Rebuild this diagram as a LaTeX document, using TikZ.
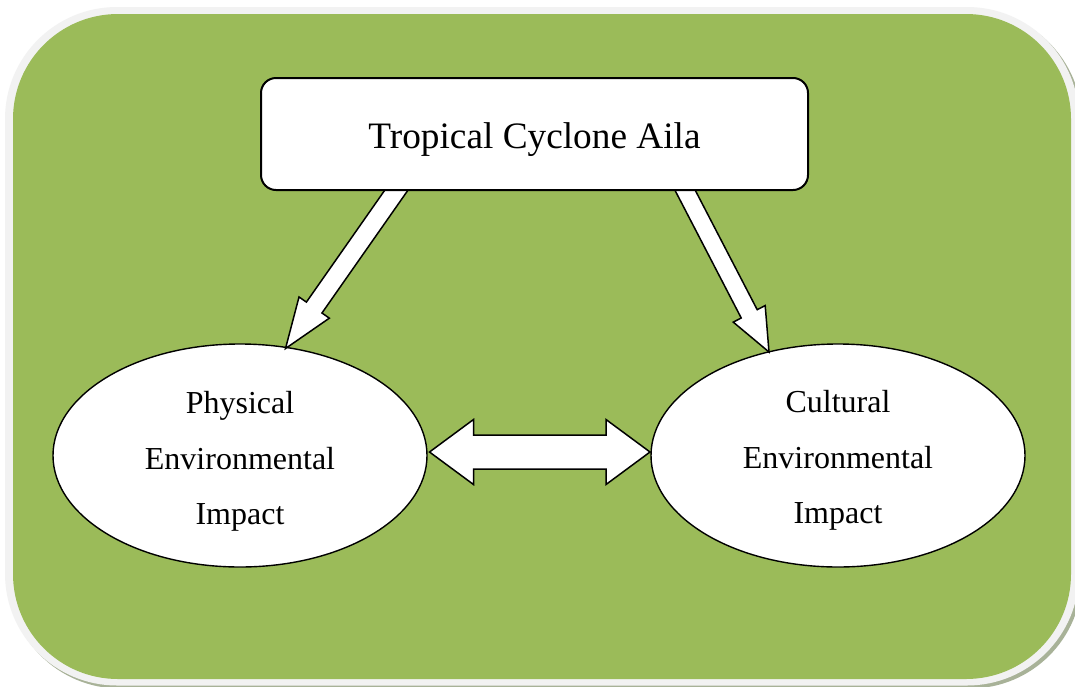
\documentclass[tikz,border=0pt]{standalone}
\usepackage{fontspec}
\setmainfont{Liberation Serif}
\usetikzlibrary{calc,shapes.geometric}
\definecolor{leafgreen}{HTML}{9BBB59}
\definecolor{framegray}{HTML}{F2F2F2}
\definecolor{shadowc}{RGB}{168,178,152}
\newcommand\blockarr[5]{%
  \coordinate (hb) at ($(#2)!#5!(#1)$);
  \draw[blk] ($(#1)!#3!90:(#2)$) -- ($(hb)!#3!90:(#2)$) -- ($(hb)!#4!90:(#2)$) -- (#2)
    -- ($(hb)!#4!-90:(#2)$) -- ($(hb)!#3!-90:(#2)$) -- ($(#1)!#3!-90:(#2)$) -- cycle;}
\begin{document}
\begin{tikzpicture}[x=1pt,y=-1pt,
  blk/.style={draw=black,fill=white,line width=1.5pt,line join=miter},
  ell/.style={ellipse,draw=black,fill=white,line width=1.4pt,minimum width=374pt,
    minimum height=223pt,inner sep=0pt},
  elltext/.style={align=center,inner sep=0pt,font=\fontsize{32}{55.5}\selectfont},
  topbox/.style={rectangle,rounded corners=15pt,draw=black,fill=white,line width=2pt,
    minimum width=547pt,minimum height=112pt,inner sep=0pt},
  toptext/.style={inner sep=0pt,font=\fontsize{37.3}{44}\selectfont}]
\path[use as bounding box,clip] (0,0) rectangle (1075,686);
\fill[white] (0,0) rectangle (1075,686);
\fill[shadowc,rounded corners=112pt] (8,10) rectangle (1082,688.5);
\fill[framegray,rounded corners=112pt] (5,7) rectangle (1079,685.5);
\fill[leafgreen,rounded corners=105pt] (13,14) rectangle (1071,679);
% ellipses
\node[ell] (phys) at (240,455.5) {};
\node[elltext] (physT) at ($(phys)+(0,6)$) {Physical\\Environmental\\Impact};
\node[ell] (cult) at (838,455.5) {};
\node[elltext] (cultT) at ($(cult)+(0,5)$) {Cultural\\Environmental\\Impact};
% arrows from the cyclone box
\coordinate (s1) at (410.5,170);
\coordinate (t1) at (285.5,348.5);
\coordinate (s2) at (674.6,170);
\coordinate (t2) at (769,352);
\blockarr{s1}{t1}{9.5pt}{18.5pt}{50pt}
\blockarr{s2}{t2}{9pt}{18pt}{43pt}
% double arrow between ellipses
\coordinate (dl) at (429.5,452);
\coordinate (dr) at (650,452);
\draw[blk] (dl) -- ($(dl)+(44,-32.5)$) -- ($(dl)+(44,-17)$) -- ($(dr)+(-44,-17)$)
  -- ($(dr)+(-44,-32.5)$) -- (dr) -- ($(dr)+(-44,32.5)$) -- ($(dr)+(-44,17)$)
  -- ($(dl)+(44,17)$) -- ($(dl)+(44,32.5)$) -- cycle;
% top box
\node[topbox] (aila) at (534.5,134) {};
\node[toptext] (ailaT) at ($(aila)+(0,6)$) {Tropical Cyclone Aila};
\end{tikzpicture}
\end{document}
